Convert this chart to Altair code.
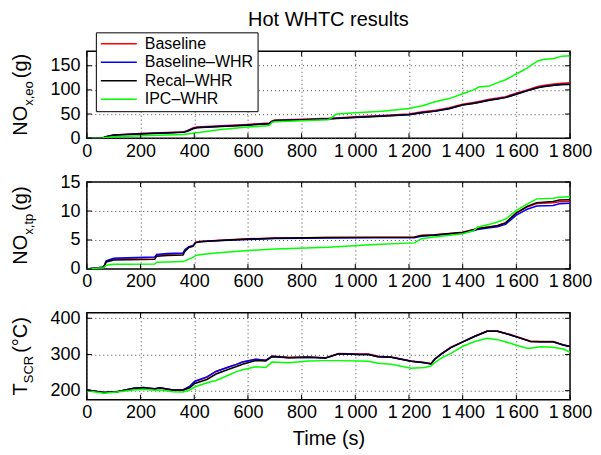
import altair as alt
import pandas as pd

FONT = "Liberation Sans"
SERIES = ["Baseline", "Baseline–WHR", "Recal–WHR", "IPC–WHR"]
COLORS = ["#ff0000", "#0000ff", "#000000", "#00ff00"]
X_TICKS = [0, 200, 400, 600, 800, 1000, 1200, 1400, 1600, 1800]

# ---------------- Panel 1: NOx engine-out (g) ----------------
T1 = [0, 60, 70, 100, 200, 300, 360, 375, 395, 410, 500, 600, 680, 690, 700, 800, 900, 930,
      1000, 1100, 1200, 1250, 1300, 1350, 1400, 1440, 1460, 1500, 1530, 1560, 1600, 1640,
      1680, 1700, 1740, 1770, 1800]
NOX_EO_BASE = [0, 0.5, 3, 6.8, 9.5, 11.5, 13, 16, 21, 23, 25.5, 28.5, 31.5, 35.5, 37.5, 39, 41, 42,
               44.5, 47, 50, 54.5, 58, 63, 70.5, 74, 76, 80.5, 83, 86, 93, 100,
               107, 109, 112, 114, 115]
NOX_EO_BASE_WHR = [0, 0.4, 2.8, 6.5, 9, 11, 12.5, 15, 20, 22, 24.5, 27.5, 30.5, 34.5, 36.5, 38, 40, 41,
                   43.5, 46, 49, 53, 56.5, 61.5, 69, 72.5, 74.5, 79, 81.5, 84.5, 91.5, 98.5,
                   105, 107, 109.5, 111, 111]
NOX_EO_RECAL = [0, 0.4, 2.6, 6.2, 8.7, 10.7, 12, 14, 19.5, 21.5, 24, 27, 30, 34, 36, 37.5, 39.5, 40.5,
                43, 45.5, 48.5, 52.5, 56, 61, 68.5, 72, 74, 78.5, 81, 84, 91, 98,
                104.5, 106.5, 109.5, 111, 111.5]
NOX_EO_IPC = [0, 0.3, 1.5, 3, 5, 6.5, 7.5, 8.5, 10, 11, 18, 23, 26, 33, 34, 36, 38, 50,
              52.5, 56, 61.5, 67, 76, 82, 92, 100, 106, 108, 115, 121, 133, 145,
              160, 163, 165, 170, 171]

# ---------------- Panel 2: NOx tailpipe (g) ----------------
T2 = [0, 60, 65, 72, 100, 150, 253, 260, 300, 358, 365, 380, 395, 405, 420, 480, 600, 700, 900,
      1073, 1220, 1246, 1295, 1400, 1440, 1455, 1500, 1530, 1560, 1600, 1640, 1676, 1737, 1760, 1800]
NOX_TP_BASE = [0, 0.3, 0.5, 1.3, 1.75, 1.85, 1.95, 2.4, 2.55, 2.65, 3.2, 3.8, 4.0, 4.6, 4.75, 4.9, 5.2, 5.35, 5.45,
               5.48, 5.5, 5.8, 5.9, 6.35, 6.8, 7.0, 7.3, 7.5, 8.0, 9.6, 10.7, 11.3, 11.45, 11.6, 11.65]
NOX_TP_BASE_WHR = [0, 0.3, 0.6, 1.4, 1.85, 1.95, 2.05, 2.5, 2.65, 2.75, 3.3, 3.85, 4.0, 4.55, 4.7, 4.85, 5.1, 5.25, 5.35,
                   5.38, 5.4, 5.65, 5.8, 6.2, 6.6, 6.8, 7.1, 7.3, 7.7, 9.3, 10.3, 10.85, 10.95, 11.25, 11.35]
NOX_TP_RECAL = [0, 0.3, 0.5, 1.2, 1.55, 1.6, 1.65, 2.2, 2.3, 2.4, 3.0, 3.7, 3.9, 4.5, 4.7, 4.85, 5.15, 5.3, 5.42,
                5.45, 5.47, 5.75, 5.88, 6.3, 6.75, 6.95, 7.25, 7.45, 7.95, 9.7, 10.8, 11.45, 11.65, 11.9, 11.95]
NOX_TP_IPC = [0, 0.2, 0.3, 0.65, 0.8, 0.82, 0.86, 1.15, 1.2, 1.27, 1.4, 1.7, 2.0, 2.3, 2.45, 2.77, 3.17, 3.46, 3.75,
              4.2, 4.5, 5.2, 5.5, 6.06, 6.6, 7.2, 7.7, 8.1, 8.6, 10.1, 11.2, 12.1, 12.2, 12.4, 12.45]

# ---------------- Panel 3: SCR temperature (°C) ----------------
T3 = [0, 63, 112, 173, 210, 253, 272, 321, 358, 383, 402, 447, 481, 531, 555, 580, 629, 666, 690,
      752, 826, 889, 938, 1012, 1049, 1085, 1134, 1208, 1258, 1282, 1295, 1320, 1356, 1399, 1442,
      1491, 1529, 1578, 1603, 1640, 1652, 1690, 1737, 1774, 1800]
TSCR_BASE = [202, 195, 197, 206, 209, 205, 208, 202, 202, 211, 225, 237, 253, 266, 272, 279, 287, 284, 296,
             292, 293, 291, 303, 301, 301, 295, 293, 282, 278, 275, 287, 302, 320, 335, 350,
             365, 365, 355, 349, 340, 337, 336, 336, 327, 321]
TSCR_BASE_WHR = [202, 195, 197, 207, 209, 205, 208, 202, 202, 212, 226, 238, 253, 266, 272, 279, 287, 284, 295,
                 291, 292, 290, 302, 300, 300, 294, 292, 281, 277, 274, 286, 301, 319, 334, 349,
                 364, 364, 354, 348, 339, 336, 335, 335, 326, 322]
TSCR_RECAL = [202, 195, 197, 206, 208, 204, 207, 201, 201, 208, 220, 231, 246, 260, 266, 273, 283, 282, 294,
              291, 292, 290, 302, 300, 300, 294, 292, 281, 277, 274, 286, 301, 319, 334, 349,
              364, 364, 354, 348, 339, 336, 335, 335, 326, 323]
TSCR_IPC = [200, 193, 196, 202, 204, 201, 202, 197, 196, 202, 210, 222, 228, 244, 252, 258, 266, 264, 279,
            277, 282, 283, 283, 282, 281, 276, 273, 262, 264, 268, 277, 290, 303, 322, 335,
            345, 341, 331, 325, 317, 317, 321, 320, 315, 306]

W = 484


def long_df(t, series_vals):
    rows = []
    for s, vals in zip(SERIES, series_vals):
        for ti, v in zip(t, vals):
            rows.append({"time": ti, "value": v, "series": s})
    return pd.DataFrame(rows)


LABEL_EXPR = ("datum.value >= 1000 ? floor(datum.value / 1000) + '\u2009' + "
              "format(datum.value % 1000, '03d') : format(datum.value, 'd')")


def xenc(field, title):
    return alt.X(f"{field}:Q",
                 scale=alt.Scale(domain=[0, 1800], nice=False, zero=False),
                 axis=alt.Axis(values=X_TICKS, title=title, grid=True, labelExpr=LABEL_EXPR,
                               labelFlush=False, labelOverlap=False))


def yenc(field, dom, ticks):
    return alt.Y(f"{field}:Q",
                 scale=alt.Scale(domain=dom, nice=False, zero=False),
                 axis=alt.Axis(values=ticks, title=None, grid=True, labelOverlap=False))


def text_piece(txt, size, px, py):
    return alt.Chart(pd.DataFrame({"k": [0]})).mark_text(
        text=txt, angle=270, align="left", baseline="alphabetic",
        fontSize=size, font=FONT, color="black"
    ).encode(x=alt.value(px), y=alt.value(py))


def panel(t, vals, dom, yticks, H, ytitle, xtitle, legend, title=None):
    df = long_df(t, vals)
    layers = []
    for s in SERIES:
        layers.append(
            alt.Chart(df[df["series"] == s]).mark_line(strokeWidth=1.5, clip=True).encode(
                x=xenc("time", xtitle),
                y=yenc("value", dom, yticks),
                color=alt.Color("series:N", scale=alt.Scale(domain=SERIES, range=COLORS),
                                legend=legend),
            )
        )
    xt = pd.DataFrame({"v": X_TICKS})
    yt = pd.DataFrame({"v": yticks})
    layers.append(alt.Chart(xt).mark_rule(color="black", strokeWidth=1).encode(
        x=xenc("v", xtitle), y=alt.value(H - 5), y2=alt.value(H)))
    layers.append(alt.Chart(xt).mark_rule(color="black", strokeWidth=1).encode(
        x=xenc("v", xtitle), y=alt.value(0), y2=alt.value(5)))
    layers.append(alt.Chart(yt).mark_rule(color="black", strokeWidth=1).encode(
        y=yenc("v", dom, yticks), x=alt.value(0), x2=alt.value(5)))
    layers.append(alt.Chart(yt).mark_rule(color="black", strokeWidth=1).encode(
        y=yenc("v", dom, yticks), x=alt.value(W - 5), x2=alt.value(W)))

    # rotated y-axis title built from pieces (main, subscript, unit)
    main, sub, unit, w_main, w_sub, w_unit = ytitle
    big, small, gap = 20, 13, 3
    total = w_main * big + w_sub * small + gap + w_unit * big
    y0 = H / 2 + total / 2
    xb = -60
    layers.append(text_piece(main, big, xb, y0))
    layers.append(text_piece(sub, small, xb + 6, y0 - w_main * big))
    layers.append(text_piece(unit, big, xb, y0 - w_main * big - w_sub * small - gap))

    ch = alt.layer(*layers).properties(width=W, height=H)
    if title is not None:
        ch = ch.properties(title=title)
    return ch


legend1 = alt.Legend(title=None, orient="none", legendX=9, legendY=-19,
                     symbolType="stroke", symbolSize=1296, symbolStrokeWidth=1.5,
                     clipHeight=15, rowPadding=1.5, labelFontSize=16, labelFont=FONT,
                     labelColor="black", labelOffset=7, padding=4,
                     strokeColor="black", fillColor="white", labelLimit=400)

title1 = alt.TitleParams("Hot WHTC results", font=FONT, fontSize=20, fontWeight="normal",
                         color="black", anchor="middle", frame="group", offset=2)

p1 = panel(T1, [NOX_EO_BASE, NOX_EO_BASE_WHR, NOX_EO_RECAL, NOX_EO_IPC], [0, 180],
           [0, 50, 100, 150], 87,
           ("NO", "x,eo", "(g)", 1.5, 1.89, 1.222), None, legend1, title1)
p2 = panel(T2, [NOX_TP_BASE, NOX_TP_BASE_WHR, NOX_TP_RECAL, NOX_TP_IPC], [0, 15],
           [0, 5, 10, 15], 87,
           ("NO", "x,tp", "(g)", 1.5, 1.612, 1.222), None, None)
p3 = panel(T3, [TSCR_BASE, TSCR_BASE_WHR, TSCR_RECAL, TSCR_IPC], [175, 415],
           [200, 300, 400], 87,
           ("T", "SCR", "(°C)", 0.611, 2.111, 1.788), "Time (s)", None)

chart = alt.vconcat(p1, p2, p3, spacing=44, bounds="flush").resolve_scale(
    color="independent"
).properties(
    padding={"left": 2, "top": 0, "right": 0, "bottom": 0}
).configure_view(
    stroke="black", strokeWidth=1.5
).configure_axis(
    domain=False, ticks=False, labelFont=FONT, labelFontSize=18, labelColor="black",
    titleFont=FONT, titleFontSize=20, titleFontWeight="normal", titleColor="black",
    gridColor="#444444", gridDash=[1, 3], gridWidth=1
).configure_axisX(
    labelPadding=4, titlePadding=7
).configure_axisY(
    labelPadding=7
)

chart.save("out.html", embed_options={"renderer": "svg", "actions": False})
